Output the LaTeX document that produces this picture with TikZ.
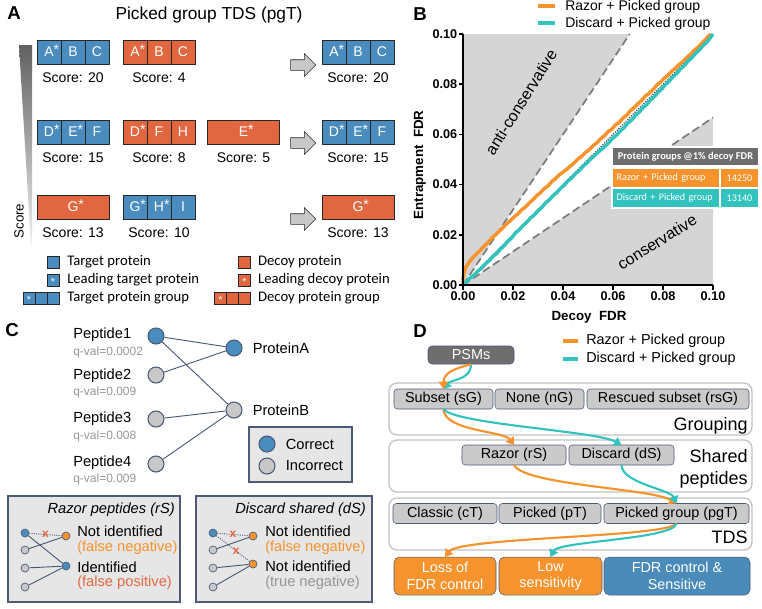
\documentclass[tikz,border=0pt]{standalone}
\usepackage{fontspec}
\setmainfont{Liberation Sans}
\newfontfamily\carlito{Carlito}
\usetikzlibrary{arrows.meta,positioning,shapes.arrows}
\newcommand{\fsz}[2]{\fontsize{#1}{#2}\selectfont}
\newcommand{\lp}[1]{#1\rlap{\smash{\raisebox{.15em}{*}}}}
\newcommand{\lstar}{\smash{\raisebox{-.55em}{*}}}
\definecolor{TargetBlue}{RGB}{74,140,190}
\definecolor{DecoyRed}{RGB}{225,103,64}
\definecolor{CellLine}{RGB}{40,40,40}
\definecolor{ArrowGray}{RGB}{200,200,200}
\definecolor{RazorOrange}{RGB}{247,147,45}
\definecolor{DiscardTeal}{RGB}{50,195,190}
\definecolor{PlotGray}{RGB}{213,213,213}
\definecolor{DashGray}{RGB}{125,125,125}
\definecolor{HeadGray}{RGB}{110,110,110}
\definecolor{SlateLine}{RGB}{75,90,120}
\definecolor{NodeGray}{RGB}{200,200,200}
\definecolor{BoxFill}{RGB}{230,230,230}
\definecolor{QvalGray}{RGB}{150,150,150}
\definecolor{FalsePos}{RGB}{228,105,65}
\definecolor{OptFill}{RGB}{202,202,202}
\definecolor{StageLine}{RGB}{195,195,195}
\definecolor{GoodBlue}{RGB}{74,139,186}
\tikzset{
  panel/.style={font=\bfseries\fsz{14}{16}},
  tcell/.style={draw=CellLine,fill=TargetBlue,text=white,minimum width=18pt,
    minimum height=18pt,inner sep=0pt,outer sep=0pt,font=\fsz{10.5}{12}},
  dcell/.style={tcell,fill=DecoyRed},
  dwide/.style={dcell,minimum width=54pt},
  score/.style={font=\fsz{10.5}{12},inner sep=1pt},
  garrow/.style={single arrow,draw=CellLine,fill=ArrowGray,minimum height=18.75pt,
    inner sep=3.75pt,single arrow head extend=4.5pt},
  lsq/.style={draw=CellLine,minimum size=9pt,inner sep=0pt,outer sep=0pt,
    text=white,font=\fsz{8}{8}},
  legtext/.style={font=\carlito\fsz{11}{13},inner sep=0pt},
  blegend/.style={font=\fsz{10.5}{12},inner sep=0pt,anchor=west},
  dlegend/.style={font=\fsz{10.8}{12},inner sep=0pt,anchor=west},
  razorkey/.style={RazorOrange,line width=3.5pt},
  discardkey/.style={DiscardTeal,line width=3.5pt},
  bound/.style={DashGray,line width=1.3pt,dash pattern=on 6pt off 3pt},
  ideal/.style={black!70,line width=0.9pt,densely dotted},
  razorcurve/.style={RazorOrange,line width=2.6pt,line join=round},
  discardcurve/.style={DiscardTeal,line width=2.6pt,line join=round},
  axisline/.style={black,line width=1.1pt},
  ticklbl/.style={font=\bfseries\fsz{9.5}{11},inner sep=0.8pt},
  thead/.style={fill=HeadGray,text=white,font=\carlito\bfseries\fsz{7.8}{9},
    minimum width=108.75pt,minimum height=12.75pt,inner sep=0pt},
  tleft/.style={text=white,font=\carlito\fsz{7.6}{9},minimum height=13.5pt,
    text width=74pt,inner xsep=2.75pt,inner ysep=0pt,align=left},
  tright/.style={text=white,font=\carlito\fsz{7.6}{9},minimum width=27.75pt,
    minimum height=13.5pt,inner sep=0pt},
  pepnode/.style={circle,draw=SlateLine,line width=0.8pt,minimum size=12pt,inner sep=0pt},
  correct/.style={pepnode,fill=TargetBlue},
  wrong/.style={pepnode,fill=NodeGray},
  peptxt/.style={font=\fsz{11}{13},inner sep=0pt,anchor=west},
  qval/.style={font=\fsz{9}{11},text=QvalGray,inner sep=0pt,anchor=west},
  link/.style={SlateLine,line width=0.7pt},
  cut/.style={link,densely dotted},
  cbox/.style={draw=SlateLine,fill=BoxFill,line width=0.8pt},
  mini/.style={circle,draw=SlateLine,line width=0.5pt,minimum size=6pt,inner sep=0pt},
  xmark/.style={text=FalsePos,font=\bfseries\fsz{9}{9},inner sep=0pt},
  boxtxt/.style={font=\fsz{11}{13},inner sep=0pt,anchor=west},
  boxtitle/.style={font=\itshape\fsz{11}{13},inner sep=0pt,anchor=east},
  stage/.style={draw=StageLine,line width=1pt,rounded corners=6pt,fill=white,
    minimum width=272.25pt,minimum height=39pt},
  stagelbl/.style={font=\fsz{13.5}{16.5},inner sep=0pt,align=right},
  opt/.style={draw=SlateLine,fill=OptFill,rounded corners=2.5pt,minimum height=15pt,
    inner sep=0pt,outer sep=0pt,font=\fsz{10.8}{12}},
  result/.style={draw=SlateLine,rounded corners=4pt,minimum height=28.5pt,inner sep=0pt,
    outer sep=0pt,text=white,align=center,font=\fsz{10.8}{12.5}},
  psmbox/.style={draw=SlateLine,fill=HeadGray,text=white,rounded corners=3pt,
    minimum width=64.5pt,minimum height=13.5pt,inner sep=0pt,font=\fsz{10.8}{12}},
  oflow/.style={RazorOrange,line width=1.6pt,-{Triangle[length=5.5pt,width=7pt]}},
  tflow/.style={DiscardTeal,line width=1.6pt,-{Triangle[length=5.5pt,width=7pt]}}
}
\begin{document}
\begin{tikzpicture}[x=0.75pt,y=-0.75pt]
\useasboundingbox (0,0) rectangle (762,608);

% A: picked group TDS
\node[panel] (labA) at (14,13) {A};
\node[font=\fsz{13}{15}] (titA) at (209,15) {Picked group TDS (pgT)};
\shade[top color=black!62,bottom color=black!6] (19,45) -- (32,45) -- (32,246) -- (31,246) -- cycle;
\node[rotate=90,font=\fsz{10}{12}] (scorelbl) at (19,221) {Score};

\node[tcell] (t1a) at (49,52) {\lp{A}};
\node[tcell,right=0pt of t1a] (t1b) {B};
\node[tcell,right=0pt of t1b] (t1c) {C};
\node[score,below=5pt of t1b] (t1s) {Score: 20};
\node[dcell] (d1a) at (135,52) {\lp{A}};
\node[dcell,right=0pt of d1a] (d1b) {B};
\node[dcell,right=0pt of d1b] (d1c) {C};
\node[score,below=5pt of d1b] (d1s) {Score: 4};
\node[garrow] (pick1) at (300.5,65) {};
\node[tcell] (w1a) at (334,52) {\lp{A}};
\node[tcell,right=0pt of w1a] (w1b) {B};
\node[tcell,right=0pt of w1b] (w1c) {C};
\node[score,below=5pt of w1b] (w1s) {Score: 20};

\node[tcell] (t2a) at (49,132) {\lp{D}};
\node[tcell,right=0pt of t2a] (t2b) {\lp{E}};
\node[tcell,right=0pt of t2b] (t2c) {F};
\node[score,below=5pt of t2b] (t2s) {Score: 15};
\node[dcell] (d2a) at (135,132) {\lp{D}};
\node[dcell,right=0pt of d2a] (d2b) {F};
\node[dcell,right=0pt of d2b] (d2c) {H};
\node[score,below=5pt of d2b] (d2s) {Score: 8};
\node[dwide] (e2) at (243.5,132) {\lp{E}};
\node[score,below=5pt of e2] (e2s) {Score: 5};
\node[garrow] (pick2) at (300.5,143) {};
\node[tcell] (w2a) at (334,132) {\lp{D}};
\node[tcell,right=0pt of w2a] (w2b) {\lp{E}};
\node[tcell,right=0pt of w2b] (w2c) {F};
\node[score,below=5pt of w2b] (w2s) {Score: 15};

\node[dwide] (g3) at (73,207) {\lp{G}};
\node[score,below=5pt of g3] (g3s) {Score: 13};
\node[tcell] (t3a) at (135,207) {\lp{G}};
\node[tcell,right=0pt of t3a] (t3b) {\lp{H}};
\node[tcell,right=0pt of t3b] (t3c) {I};
\node[score,below=5pt of t3b] (t3s) {Score: 10};
\node[garrow] (pick3) at (300.5,219) {};
\node[dwide] (w3) at (358,207) {\lp{G}};
\node[score,below=5pt of w3] (w3s) {Score: 13};

% legend A
\node[lsq,fill=TargetBlue] (ltp) at (53,262) {};
\node[legtext,right=6pt of ltp] (ltpt) {Target protein};
\node[lsq,fill=TargetBlue] (ltl) at (53,280) {\lstar};
\node[legtext,right=6pt of ltl] (ltlt) {Leading target protein};
\node[lsq,fill=TargetBlue] (ltg1) at (29,298) {\lstar};
\node[lsq,fill=TargetBlue,right=0pt of ltg1] (ltg2) {};
\node[lsq,fill=TargetBlue,right=0pt of ltg2] (ltg3) {};
\node[legtext,right=6pt of ltg3] (ltgt) {Target protein group};
\node[lsq,fill=DecoyRed] (ldp) at (244.5,262) {};
\node[legtext,right=5.5pt of ldp] (ldpt) {Decoy protein};
\node[lsq,fill=DecoyRed] (ldl) at (244.5,280) {\lstar};
\node[legtext,right=5.5pt of ldl] (ldlt) {Leading decoy protein};
\node[lsq,fill=DecoyRed] (ldg1) at (220.5,298) {\lstar};
\node[lsq,fill=DecoyRed,right=0pt of ldg1] (ldg2) {};
\node[lsq,fill=DecoyRed,right=0pt of ldg2] (ldg3) {};
\node[legtext,right=5.5pt of ldg3] (ldgt) {Decoy protein group};

% B: entrapment vs decoy FDR
\node[panel] (labB) at (420,14) {B};
\draw[razorkey] (538,6) -- (555,6);
\node[blegend] (blegR) at (565,7) {Razor + Picked group};
\draw[discardkey] (538,23) -- (555,23);
\node[blegend] (blegD) at (565,24) {Discard + Picked group};
\begin{scope}[shift={(463,285)},xscale=2.5,yscale=-2.51]
  \fill[PlotGray] (0,0) -- (0,100) -- (66.7,100) -- cycle;
  \fill[PlotGray] (0,0) -- (100,0) -- (100,66.7) -- cycle;
  \draw[bound] (0,0) -- (66.7,100);
  \draw[bound] (0,0) -- (100,66.7);
  \draw[ideal] (0,0) -- (100,100);
  \draw[razorcurve] plot coordinates {(0,0) (0,3) (0.5,5.2) (1.2,7.2) (2.5,9.2) (4,11)
    (5.5,12.5) (7,13.9) (8.5,15.6) (10,16.9) (11.5,18.7) (13,20) (14.5,21.5) (16,22.8)
    (17.5,24.5) (19,25.7) (20.5,27.2) (22,28.4) (23.5,30) (25,31.1) (26.5,32.7)
    (28,34) (29.5,35.6) (31,36.8) (32.5,38.4) (34,39.5) (35.5,41.2) (37,42.4) (38.5,43.9)
    (40,45) (41.5,46.1) (43,47.4) (44.5,48.7) (46,50.2) (47.5,51.3) (49,52.8) (50.5,53.9)
    (52,55.5) (53.5,56.6) (55,58.2) (56.5,59.4) (58,61) (59.5,62.1) (61,63.8) (62.5,64.8)
    (64,66.5) (65.5,67.7) (67,69.5) (68.5,70.7) (70,72.3) (71.5,73.6) (73,75.4)
    (74.5,76.4) (76,77.9) (77.5,79.6) (79,80.9) (80.5,82.4) (82,83.6) (83.5,85.2)
    (85,86.4) (86.5,87.9) (88,89) (89.5,90.6) (91,91.9) (92.5,93.5) (94,94.7)
    (95.5,96.3) (97,97.8) (98.2,99.2) (99,100)};
  \draw[discardcurve] plot coordinates {(0,0) (1.5,1.3) (3,2.9) (4.5,4.1) (6,5.6)
    (7.5,6.8) (9,8.5) (10.5,9.7) (12,11.4) (13.5,12.6) (15,14.4) (16.5,15.7) (18,17.5)
    (19.5,18.8) (21,20.8) (22.5,22) (24,23.7) (25.5,25) (27,26.7) (28.5,27.9) (30,29.6)
    (31.5,30.9) (33,32.7) (34.5,33.9) (36,35.6) (37.5,36.8) (39,38.5) (40.5,39.8)
    (42,41.5) (43.5,42.7) (45,44.4) (46.5,45.6) (48,47.3) (49.5,48.6) (51,50.2)
    (52.5,51.4) (54,52.9) (55.5,54.1) (57,55.5) (58.5,56.9) (60,58.6) (61.5,59.8)
    (63,61.5) (64.5,62.8) (66,64.6) (67.5,65.8) (69,67.6) (70.5,68.9) (72,70.7)
    (73.5,71.9) (75,73.7) (76.5,75) (78,76.8) (79.5,78.1) (81,79.9) (82.5,81.2) (84,83)
    (85.5,84.3) (87,86.1) (88.5,87.4) (90,89.2) (91.5,90.5) (93,92.3) (94.5,93.6)
    (96,95.4) (97.5,96.7) (99,98.6) (100,100)};
  \draw[axisline] (0,100) -- (0,0) -- (100,0);
  \foreach \v/\lbl in {0/0.00,20/0.02,40/0.04,60/0.06,80/0.08,100/0.10}{
    \draw[axisline] (0,\v) -- (-1.8,\v);
    \node[ticklbl,anchor=east] at (-1.8,\v) {\lbl};
    \draw[axisline] (\v,0) -- (\v,-2);
    \node[ticklbl,anchor=north] at (\v,-2.2) {\lbl};
  }
\end{scope}
\node[font=\bfseries\fsz{10}{12}] (xlab) at (589,317) {Decoy\ \ FDR};
\node[rotate=90,font=\bfseries\fsz{10}{12}] (ylab) at (420,165) {Entrapment\ \ FDR};
\node[rotate=58,font=\fsz{12}{14}] (anti) at (521,102) {anti-conservative};
\node[rotate=32,font=\fsz{12}{14}] (cons) at (657,242) {conservative};
\fill[white] (611,146) rectangle (760,209);
\node[thead] (tabh) at (685.5,156.5) {Protein groups @1\% decoy FDR};
\node[tleft,fill=RazorOrange] (tabr1) at (666,178) {Razor + Picked group};
\node[tright,fill=RazorOrange] (tabr2) at (739.5,178) {14250};
\node[tleft,fill=DiscardTeal] (tabd1) at (666,198) {Discard + Picked group};
\node[tright,fill=DiscardTeal] (tabd2) at (739.5,198) {13140};

% C: shared peptides
\node[panel] (labC) at (12,330) {C};
\node[correct] (pep1) at (156,336) {};
\node[wrong] (pep2) at (156,375) {};
\node[wrong] (pep3) at (156,419) {};
\node[wrong] (pep4) at (156,464) {};
\node[correct] (protA) at (234,348) {};
\node[wrong] (protB) at (234,410) {};
\draw[link] (pep1) -- (protA);
\draw[link] (pep1) -- (protB);
\draw[link] (pep2) -- (protA);
\draw[link] (pep3) -- (protB);
\draw[link] (pep4) -- (protB);
\node[peptxt] (pep1t) at (73,335) {Peptide1};
\node[qval] (pep1q) at (73,352) {q-val=0.0002};
\node[peptxt] (pep2t) at (73,376) {Peptide2};
\node[qval] (pep2q) at (73,392) {q-val=0.009};
\node[peptxt] (pep3t) at (73,419) {Peptide3};
\node[qval] (pep3q) at (73,436) {q-val=0.008};
\node[peptxt] (pep4t) at (73,463) {Peptide4};
\node[qval] (pep4q) at (73,479) {q-val=0.009};
\node[peptxt,right=7.5pt of protA] (protAt) {ProteinA};
\node[peptxt,right=7.5pt of protB] (protBt) {ProteinB};

\node[cbox,minimum width=77.25pt,minimum height=41.25pt] (cleg) at (300.5,454.5) {};
\node[correct] (legok) at (267,444) {};
\node[peptxt,right=7.5pt of legok] (legokt) {Correct};
\node[wrong] (legno) at (267,466) {};
\node[peptxt,right=7.5pt of legno] (legnot) {Incorrect};

\node[cbox,minimum width=129pt,minimum height=79.5pt] (rbox) at (94,549) {};
\node[boxtitle] (rtitle) at (175,510) {Razor peptides (rS)};
\node[mini,fill=TargetBlue] (ra1) at (25,533) {};
\node[mini,fill=NodeGray] (ra2) at (25,550) {};
\node[mini,fill=NodeGray] (ra3) at (25,568) {};
\node[mini,fill=NodeGray] (ra4) at (25,587) {};
\node[mini,fill=RazorOrange] (rb1) at (66,536) {};
\node[mini,fill=TargetBlue] (rb2) at (66,566) {};
\draw[cut] (ra1) -- node[xmark] {x} (rb1);
\draw[link] (ra1) -- (rb2);
\draw[link] (ra2) -- (rb1);
\draw[link] (ra3) -- (rb2);
\draw[link] (ra4) -- (rb2);
\node[boxtxt] (rt1) at (77,531) {Not identified};
\node[boxtxt,text=RazorOrange] (rt2) at (77,548) {(false negative)};
\node[boxtxt] (rt3) at (77,567) {Identified};
\node[boxtxt,text=FalsePos] (rt4) at (77,583) {(false positive)};

\node[cbox,minimum width=132pt,minimum height=79.5pt] (dbox) at (284,549) {};
\node[boxtitle] (dtitle) at (366,510) {Discard shared (dS)};
\node[mini,fill=TargetBlue] (da1) at (213,533) {};
\node[mini,fill=NodeGray] (da2) at (213,550) {};
\node[mini,fill=NodeGray] (da3) at (213,568) {};
\node[mini,fill=NodeGray] (da4) at (213,587) {};
\node[mini,fill=RazorOrange] (db1) at (253,536) {};
\node[mini,fill=RazorOrange] (db2) at (253,564) {};
\draw[cut] (da1) -- node[xmark] {x} (db1);
\draw[cut] (da1) -- node[xmark,pos=0.6] {x} (db2);
\draw[link] (da2) -- (db1);
\draw[link] (da3) -- (db2);
\draw[link] (da4) -- (db2);
\node[boxtxt] (dt1) at (265,531) {Not identified};
\node[boxtxt,text=RazorOrange] (dt2) at (265,548) {(false negative)};
\node[boxtxt] (dt3) at (265,566) {Not identified};
\node[boxtxt,text=QvalGray] (dt4) at (265,583) {(true negative)};

% D: workflow
\node[panel] (labD) at (420,331) {D};
\draw[razorkey] (563,341) -- (578,341);
\node[dlegend] (dlegR) at (586,341) {Razor + Picked group};
\draw[discardkey] (563,359) -- (578,359);
\node[dlegend] (dlegD) at (586,359) {Discard + Picked group};

\node[psmbox] (psm) at (471,355) {PSMs};
\node[stage] (grp) at (570.5,409) {};
\node[stage] (shr) at (570.5,466) {};
\node[stage] (tds) at (570.5,524) {};
\node[stagelbl,anchor=base east] (grpl) at (748,430) {Grouping};
\node[stagelbl,anchor=east] (shrl) at (748,469) {Shared\\peptides};
\node[stagelbl,anchor=base east] (tdsl) at (748,543) {TDS};

\node[opt,minimum width=74.25pt] (sG) at (443.5,399) {Subset (sG)};
\node[opt,minimum width=66.75pt,right=1.5pt of sG] (nG) {None (nG)};
\node[opt,minimum width=121.5pt,right=2.25pt of nG] (rsG) {Rescued subset (rsG)};
\node[opt,minimum width=78pt] (rS) at (514,455) {Razor (rS)};
\node[opt,minimum width=78.75pt,right=2.25pt of rS] (dS) {Discard (dS)};
\node[opt,minimum width=78pt] (cT) at (445,513.5) {Classic (cT)};
\node[opt,minimum width=76.5pt,right=1.5pt of cT] (pT) {Picked (pT)};
\node[opt,minimum width=108.75pt,right=2.25pt of pT] (pgT) {Picked group (pgT)};
\node[result,fill=RazorOrange,minimum width=76.5pt] (loss) at (445,576) {Loss of\\FDR control};
\node[result,fill=RazorOrange,minimum width=77.25pt,right=2.25pt of loss] (lowsens) {Low\\sensitivity};
\node[result,fill=GoodBlue,minimum width=109.5pt,right=1.5pt of lowsens] (good) {FDR control \&\\Sensitive};

\draw[tflow] (psm.south) .. controls +(0,16) and +(8,-10) .. (sG.north);
\draw[oflow] (psm.south) .. controls +(-15,4) and +(0,-17) .. (sG.north);
\draw[oflow] (sG.south) .. controls +(0,22) and +(-10,-14) .. (rS.north);
\draw[tflow] (sG.south) .. controls +(10,15) and +(-25,-14) .. (dS.north);
\draw[oflow] (rS.south) .. controls +(10,20) and +(-25,-15) .. (pgT.north);
\draw[tflow] (dS.south) .. controls +(0,18) and +(-6,-14) .. (pgT.north);
\draw[oflow] (pgT.south) .. controls +(-10,14) and +(15,-20) .. (loss.north);
\draw[tflow] (pgT.south) .. controls +(-4,16) and +(8,-16) .. (lowsens.north);
\end{tikzpicture}
\end{document}
